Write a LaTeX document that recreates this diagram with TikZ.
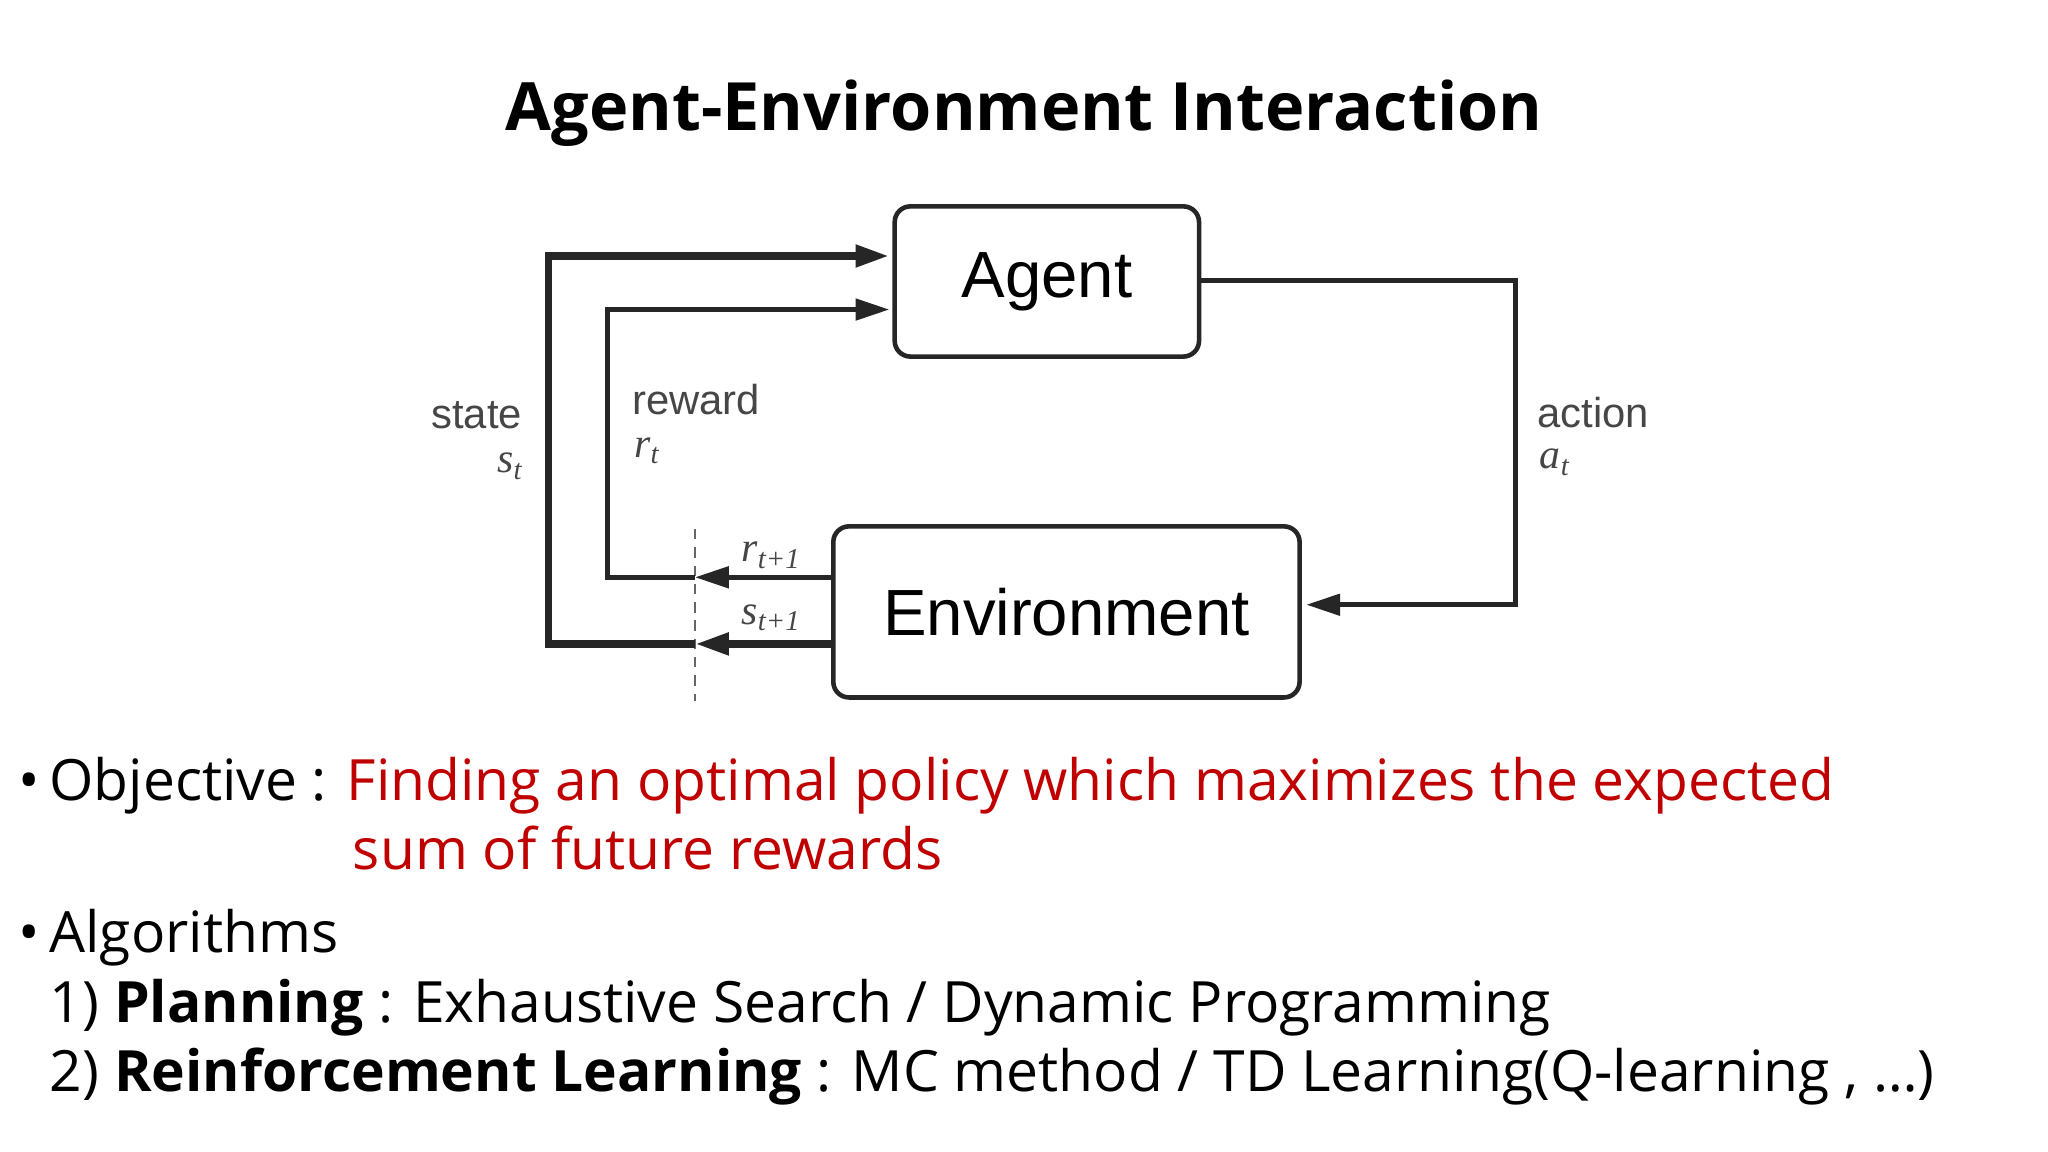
\documentclass[tikz,border=0pt]{standalone}
\usepackage{fontspec}
\setmainfont{Open Sans}
\newfontfamily\arial{Liberation Sans}
\newfontfamily\timesit{Liberation Serif}[ItalicFont=* Italic]
\usetikzlibrary{arrows.meta}
\definecolor{myred}{RGB}{192,0,0}
\definecolor{lbl}{RGB}{70,70,70}
\tikzset{
 box/.style={draw=black!85,line width=3.5pt,rounded corners=12pt,inner sep=0pt},
 thickln/.style={line width=6pt,draw=black!85},
 thinln/.style={line width=4pt,draw=black!85},
 tip/.style={-{Triangle[length=26pt,width=16pt]}},
 lab/.style={font=\arial\fontsize{32}{34}\selectfont,text=lbl,inner sep=0pt},
 var/.style={font=\timesit\itshape\fontsize{32}{34}\selectfont,text=lbl,inner sep=0pt},
 body/.style={font=\fontsize{43.6}{50}\selectfont,anchor=base west,inner sep=0pt}
}
\begin{document}
\begin{tikzpicture}[x=1pt,y=-1pt]
\useasboundingbox (0,0) rectangle (1568,882);
\node[font=\bfseries\fontsize{51}{55}\selectfont] (title) at (784,87) {Agent-Environment Interaction};
\node[box,minimum width=233pt,minimum height=115pt,font=\arial\fontsize{50}{54}\selectfont] (agent) at (801.5,215.5) {Agent};
\node[box,minimum width=357pt,minimum height=131pt,font=\arial\fontsize{50}{54}\selectfont] (env) at (816.5,468.5) {Environment};
\coordinate (d1) at (532,405); \coordinate (d2) at (532,537);
\draw[dashed,line width=2pt,black!60,dash pattern=on 8pt off 6pt] (d1)--(d2);
\coordinate (rs) at (532,442); \coordinate (ss) at (532,493);
\coordinate (ae) at (1000,463);
\draw[thinln,tip] (agent.east |- 0,215) -- (1160,215) |- (ae);
\draw[thinln,tip] (env.west |- rs) -- (rs);
\draw[thickln,tip] (env.west |- ss) -- (ss);
\draw[thinln,tip] (rs) -- (465,442) |- (681,237);
\draw[thickln,tip] (ss) -- (420,493) |- (681,196);
\node[lab] (st) at (365,318) {state};
\node[var] (stv) at (390,357) {s\raisebox{-5pt}{\fontsize{22}{24}\selectfont t}};
\node[lab] (rw) at (533,306) {reward};
\node[var] (rwv) at (495,345) {r\raisebox{-5pt}{\fontsize{22}{24}\selectfont t}};
\node[lab] (ac) at (1220,316) {action};
\node[var] (acv) at (1190,354) {a\raisebox{-5pt}{\fontsize{22}{24}\selectfont t}};
\node[var] (r1) at (590,425) {r\raisebox{-5pt}{\fontsize{22}{24}\selectfont t+1}};
\node[var] (s1) at (590,473) {s\raisebox{-5pt}{\fontsize{22}{24}\selectfont t+1}};
\node[body] (b1) at (14,613) {•\,Objective : \textcolor{myred}{Finding an optimal policy which maximizes the expected}};
\node[body,text=myred] (b1b) at (270,666) {sum of future rewards};
\node[body] (b2) at (14,729) {•\,Algorithms};
\node[body] (b3) at (38,783) {1) \textbf{Planning} : Exhaustive Search / Dynamic Programming};
\node[body] (b4) at (38,836) {2) \textbf{Reinforcement Learning} : MC method / TD Learning(Q-learning , …)};
\end{tikzpicture}
\end{document}
